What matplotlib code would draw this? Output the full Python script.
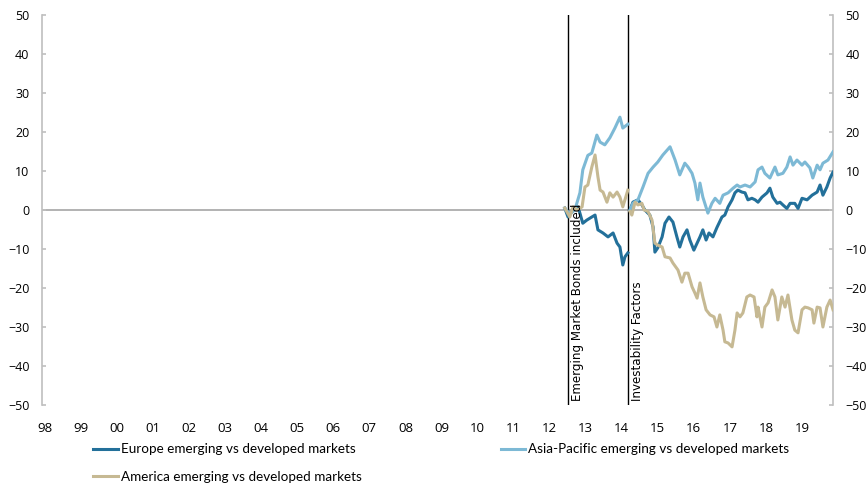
import numpy as np
import matplotlib
matplotlib.use("Agg")
import matplotlib.pyplot as plt

# Relative performance, emerging vs developed markets (decimal years, %)
# before the investability change (Jul 2012 - Mar 2014)
eur_t1 = [2012.42, 2012.51, 2012.65, 2012.79, 2012.92, 2013.03, 2013.17, 2013.26, 2013.34,
          2013.48, 2013.62, 2013.76, 2013.87, 2013.95, 2014.03, 2014.09, 2014.17]
eur_v1 = [0.5, -1.8, 0.0, 0.8, -3.4, -2.6, -1.8, -1.3, -5.1,
          -5.9, -6.9, -5.9, -8.5, -9.5, -14.1, -12.0, -11.0]

asia_t1 = [2012.42, 2012.56, 2012.70, 2012.84, 2012.92, 2013.06, 2013.17, 2013.31, 2013.40,
           2013.53, 2013.67, 2013.81, 2013.95, 2014.03, 2014.17]
asia_v1 = [0.5, -1.0, 0.0, 4.4, 10.3, 14.0, 14.6, 19.2, 17.4,
           16.7, 18.5, 21.0, 23.8, 21.0, 22.0]

amer_t1 = [2012.42, 2012.56, 2012.65, 2012.76, 2012.90, 2012.98, 2013.06, 2013.17, 2013.26,
           2013.34, 2013.40, 2013.48, 2013.59, 2013.67, 2013.76, 2013.87, 2013.95, 2014.03, 2014.17]
amer_v1 = [0.5, -1.8, 0.8, 0.0, 0.8, 5.9, 6.4, 11.0, 14.1,
           8.5, 5.1, 4.6, 2.0, 4.4, 3.3, 4.6, 3.3, 0.8, 5.1]

# after the investability factors (Mar 2014 - Nov 2019)
eur_t2 = [2014.23, 2014.31, 2014.45, 2014.56, 2014.64, 2014.78, 2014.87, 2014.92, 2015.00,
          2015.12, 2015.20, 2015.31, 2015.42, 2015.53, 2015.61, 2015.70, 2015.81, 2015.89,
          2016.00, 2016.09, 2016.17, 2016.25, 2016.34, 2016.42, 2016.53, 2016.64, 2016.78,
          2016.86, 2016.95, 2017.06, 2017.14, 2017.22, 2017.33, 2017.42, 2017.50, 2017.61,
          2017.70, 2017.78, 2017.89, 2018.03, 2018.11, 2018.19, 2018.31, 2018.39, 2018.47,
          2018.58, 2018.67, 2018.80, 2018.89, 2019.00, 2019.14, 2019.28, 2019.42, 2019.50,
          2019.58, 2019.69, 2019.78, 2019.86]
eur_v2 = [0.0, 2.0, 2.6, 1.3, 0.0, -1.3, -4.4, -10.8, -9.7,
          -6.9, -3.4, -1.8, -3.1, -6.9, -9.5, -6.9, -5.1, -7.7,
          -10.3, -8.5, -6.9, -5.1, -7.7, -5.9, -6.9, -4.5, -1.8,
          -1.3, 0.8, 2.6, 4.4, 5.1, 4.6, 4.4, 2.6, 3.0,
          2.6, 2.0, 3.3, 4.4, 5.6, 3.3, 1.7, 2.0, 1.3,
          0.4, 1.7, 1.7, 0.4, 3.0, 2.6, 3.8, 4.6, 6.4,
          3.8, 5.9, 8.2, 9.7]

asia_t2 = [2014.23, 2014.31, 2014.45, 2014.59, 2014.73, 2014.87, 2015.00, 2015.14, 2015.34,
           2015.48, 2015.61, 2015.75, 2015.84, 2015.95, 2016.03, 2016.11, 2016.17, 2016.25,
           2016.39, 2016.50, 2016.59, 2016.72, 2016.81, 2016.95, 2017.09, 2017.20, 2017.28,
           2017.42, 2017.56, 2017.70, 2017.78, 2017.89, 2017.97, 2018.11, 2018.25, 2018.33,
           2018.47, 2018.58, 2018.67, 2018.75, 2018.86, 2019.00, 2019.08, 2019.22, 2019.30,
           2019.42, 2019.50, 2019.58, 2019.72, 2019.86]
asia_v2 = [0.0, 1.7, 2.6, 5.9, 9.4, 11.0, 12.3, 14.1, 16.2,
           12.8, 9.0, 12.0, 11.0, 9.4, 6.9, 2.6, 6.9, 3.3,
           -0.8, 1.7, 3.0, 1.7, 3.8, 4.4, 5.6, 6.4, 5.9,
           6.4, 5.9, 7.2, 10.3, 11.0, 9.4, 8.2, 11.0, 9.0,
           9.4, 11.0, 13.6, 11.5, 12.8, 11.5, 12.3, 10.8, 8.2,
           11.5, 10.3, 12.0, 12.8, 14.9]

amer_t2 = [2014.23, 2014.28, 2014.37, 2014.45, 2014.56, 2014.62, 2014.73, 2014.84, 2014.92,
           2015.00, 2015.12, 2015.20, 2015.34, 2015.42, 2015.56, 2015.67, 2015.75, 2015.84,
           2015.95, 2016.03, 2016.09, 2016.17, 2016.25, 2016.34, 2016.45, 2016.56, 2016.64,
           2016.72, 2016.81, 2016.86, 2016.95, 2017.06, 2017.14, 2017.20, 2017.28, 2017.36,
           2017.47, 2017.56, 2017.67, 2017.75, 2017.78, 2017.89, 2017.97, 2018.06, 2018.17,
           2018.25, 2018.33, 2018.44, 2018.53, 2018.61, 2018.72, 2018.80, 2018.89, 2019.00,
           2019.08, 2019.17, 2019.28, 2019.33, 2019.42, 2019.50, 2019.58, 2019.69, 2019.78,
           2019.86]
amer_v2 = [-0.4, -1.3, 2.0, 1.3, 1.7, 0.0, -0.4, -2.6, -8.5,
           -9.0, -9.5, -12.0, -12.3, -13.6, -15.4, -18.5, -16.2, -16.2,
           -19.7, -21.3, -22.6, -18.7, -22.3, -25.6, -26.9, -27.4, -30.0,
           -26.9, -30.8, -33.8, -34.1, -35.1, -30.8, -26.4, -27.4, -26.4,
           -22.3, -21.8, -22.3, -27.4, -24.9, -30.0, -24.9, -23.8, -20.5,
           -22.3, -28.2, -22.3, -24.9, -21.8, -28.2, -30.8, -31.5, -25.6,
           -24.9, -25.1, -25.6, -29.0, -24.9, -25.1, -30.0, -24.9, -23.1,
           -25.6]

years = list(range(1998, 2020))
year_labels = ["%02d" % (y % 100) for y in years]

events = [2012.51, 2014.17]
event_labels = ["Emerging Market Bonds included", "Investability Factors"]

series = [
    ("Europe emerging vs developed markets", "#23709A", eur_t1, eur_v1, eur_t2, eur_v2),
    ("Asia-Pacific emerging vs developed markets", "#7DB9D5", asia_t1, asia_v1, asia_t2, asia_v2),
    ("America emerging vs developed markets", "#C6B993", amer_t1, amer_v1, amer_t2, amer_v2),
]

fig = plt.figure(figsize=(8.67, 4.83), dpi=100)
ax = fig.add_axes([0.0484, 0.1615, 0.9124, 0.8075])

ax.axhline(0, color="#a6a6a6", lw=1.2, zorder=1)
for x in events:
    ax.axvline(x, color="black", lw=1.0, zorder=2)

handles = {}
for name, col, t1, v1, t2, v2 in series:
    h, = ax.plot(t1, v1, color=col, lw=2.2, label=name, zorder=3)
    ax.plot(t2, v2, color=col, lw=2.2, zorder=3)
    handles[name] = h

for x, txt in zip(events, event_labels):
    ax.annotate(txt, xy=(x, -49), xytext=(2, 0), textcoords="offset points",
                rotation=90, ha="left", va="bottom", fontsize=8.6, family="DejaVu Sans")

ax.set_xlim(1997.92, 2019.86)
ax.set_ylim(-50, 50)
ax.set_yticks(range(-50, 51, 10))
ax.set_xticks(years)
ax.set_xticklabels(year_labels)

for s in ["top", "bottom"]:
    ax.spines[s].set_visible(False)
for s in ["left", "right"]:
    ax.spines[s].set_color("#bfbfbf")
    ax.spines[s].set_linewidth(1.2)

ax.tick_params(axis="y", direction="in", length=3, color="#bfbfbf", width=1.2,
               left=True, right=True, labelleft=True, labelright=True, pad=9,
               labelsize=9)
ax.tick_params(axis="x", length=0, pad=12, labelsize=9.5)
for lab in ax.get_xticklabels() + ax.get_yticklabels():
    lab.set_family("Open Sans")

order = [series[0][0], series[2][0], series[1][0]]
leg = fig.legend([handles[n] for n in order], order, loc="upper left",
                 bbox_to_anchor=(0.1073, 0.082), ncol=2, frameon=False,
                 borderpad=0, borderaxespad=0,
                 handlelength=1.85, handletextpad=0.22, columnspacing=10.3,
                 labelspacing=1.15, prop={"family": "Lato", "size": 9.7})

fig.savefig("out.png", dpi=100)
